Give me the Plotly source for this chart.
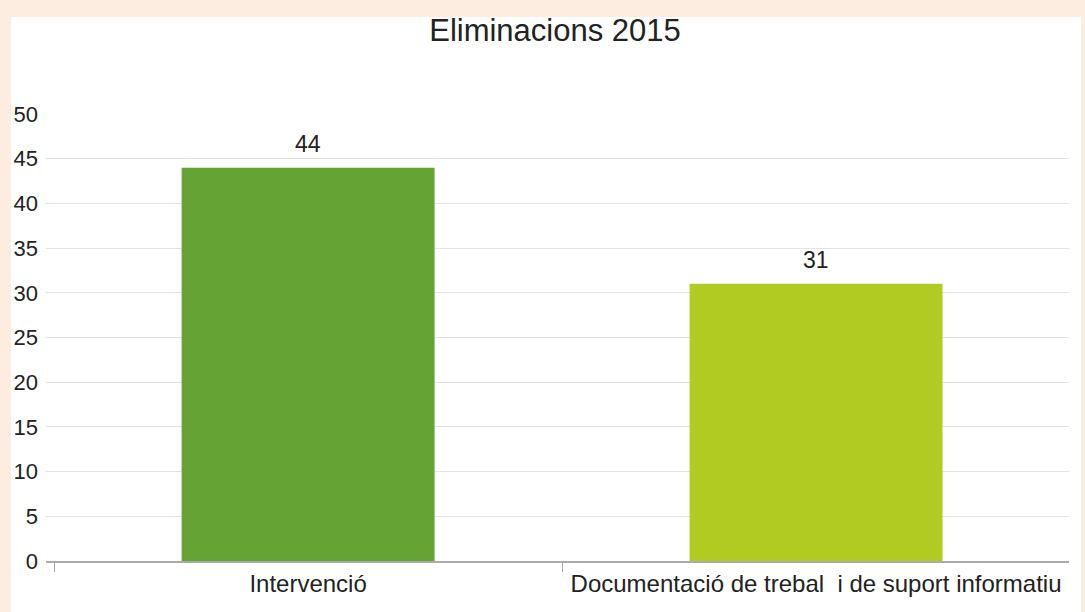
import plotly.graph_objects as go

categories = ["Intervenció", "Documentació de trebal  i de suport informatiu"]
values = [44, 31]
bar_colors = ["#65A335", "#B2CB22"]
title_text = "Eliminacions 2015"
y_ticks = [0, 5, 10, 15, 20, 25, 30, 35, 40, 45, 50]

W, H = 1085, 612
ml, mr, mt, mb = 46, 16, 114, 51
pw, ph = W - ml - mr, H - mt - mb

def px_to_paper_x(px):
    return (px - ml) / pw

def px_to_paper_y(py):
    return (H - mb - py) / ph

fig = go.Figure()
fig.add_trace(go.Bar(
    x=categories, y=values,
    marker=dict(color=bar_colors, line=dict(width=0)),
    width=0.498,
    hoverinfo="skip",
))

for c, v in zip(categories, values):
    fig.add_annotation(x=c, y=v, text=str(v), showarrow=False,
                       yanchor="bottom", yshift=9,
                       font=dict(family="Liberation Sans, Arial, sans-serif", size=23, color="#222222"))

# white card over peach background
fig.add_shape(type="rect", xref="paper", yref="paper",
              x0=px_to_paper_x(11), x1=px_to_paper_x(1081),
              y0=px_to_paper_y(640), y1=px_to_paper_y(17),
              fillcolor="#FFFFFF", line=dict(width=0), layer="below")

fig.update_layout(
    width=W, height=H,
    margin=dict(l=ml, r=mr, t=mt, b=mb, pad=0, autoexpand=False),
    paper_bgcolor="#FDEDE0",
    plot_bgcolor="rgba(0,0,0,0)",
    showlegend=False,
    title=dict(text=title_text, x=555 / W, xanchor="center", y=1 - 30 / H, yanchor="middle",
               yref="container",
               font=dict(family="Liberation Sans, Arial, sans-serif", size=31, color="#222222")),
    font=dict(family="Liberation Sans, Arial, sans-serif", size=22, color="#222222"),
    bargap=0.5,
)
fig.update_yaxes(range=[0, 50], tickvals=y_ticks, showgrid=True, gridcolor="#E2E2E2",
                 gridwidth=1, zeroline=False, showline=False, ticks="",
                 tickfont=dict(size=22, color="#222222"), ticklabelstandoff=7,
                 automargin=False, fixedrange=True)
fig.update_xaxes(range=[-0.516, 1.498],
                 showline=True, linecolor="#AAAAAA", linewidth=1.5,
                 ticks="outside", tickson="boundaries", ticklen=9, tickcolor="#AAAAAA",
                 tickfont=dict(size=24, color="#222222"), showgrid=False,
                 automargin=False, fixedrange=True)

fig.write_html("out.html", config={"displayModeBar": False},
               post_script="document.body.style.margin='0';document.body.style.background='#FDEDE0';document.body.style.overflow='hidden';")
